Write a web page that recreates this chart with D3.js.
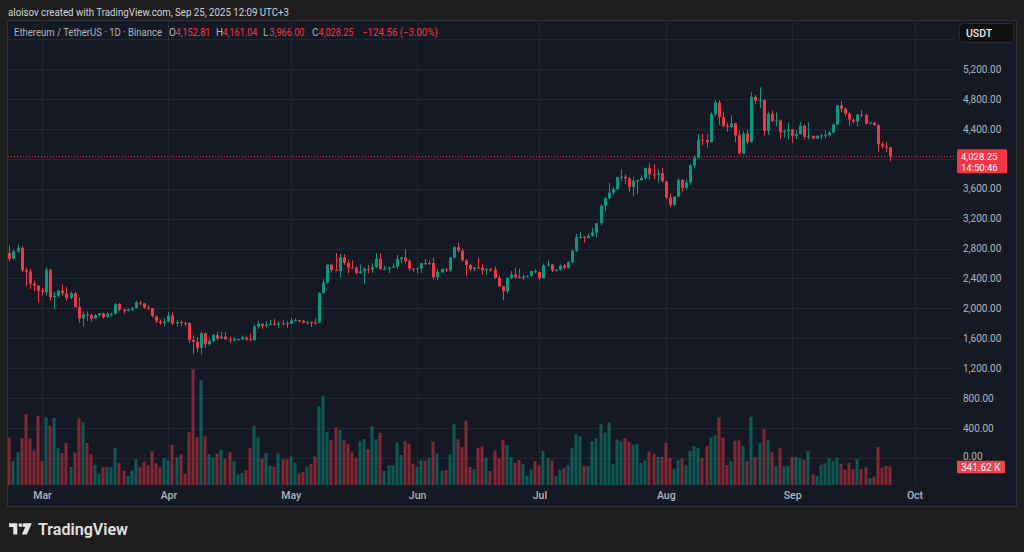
<!DOCTYPE html>
<html><head><meta charset="utf-8">
<script src="https://cdn.jsdelivr.net/npm/d3@7"></script>
<style>html,body{margin:0;padding:0;background:#1e1e1e;overflow:hidden}svg{display:block}</style>
</head><body><svg id="c" width="1024" height="552"></svg>
<script>
// ---- data (ETH/USDT, 1D, Binance), first candle 2025-02-21 ----
const startDate = "2025-02-21";
const opens = [
 2740,2663,2763,2810,2513,2494,2330,2305,
 2237,2218,2518,2150,2170,2240,2200,2140,2203,2020,1865,1920,1910,1863,1911,1935,1886,1926,1932,2058,1982,1965,1983,2004,2080,2068,2012,2002,1897,1827,1805,
 1822,1904,1796,1817,1806,1805,1580,1555,1473,1669,1522,1565,1645,1595,1622,1586,1577,1584,1588,1612,1586,1578,1756,1795,1770,1786,1792,1788,1799,1798,
 1793,1839,1842,1834,1808,1816,1812,1810,2208,2345,2583,2513,2498,2680,2609,2545,2543,2474,2494,2528,2520,2550,2663,2525,2530,2548,2563,2660,2681,2632,2531,
 2528,2535,2604,2593,2606,2418,2486,2523,2510,2680,2816,2772,2642,2580,2526,2547,2545,2510,2524,2519,2408,2294,2228,2408,2451,2418,2417,2423,2436,2500,
 2486,2405,2573,2587,2506,2517,2571,2541,2615,2769,2953,2957,2943,2972,3013,3138,3371,3475,3548,3592,3756,3760,3737,3624,3704,3714,3743,3879,3791,3785,3806,
 3698,3481,3385,3493,3717,3611,3682,3911,4013,4256,4253,4223,4596,4752,4553,4442,4423,4474,4314,4073,4338,4227,4830,4776,4785,4373,4603,4508,4512,4357,4370,
 4391,4306,4330,4442,4295,4307,4273,4306,4312,4316,4350,4460,4714,4667,4604,4523,4500,4591,4586,4468,4483,4450,4195,4165,4152.81
];
const highs = [
 2846,2785,2855,2830,2545,2530,2370,2310,
 2275,2550,2520,2220,2250,2320,2285,2230,2220,2150,1960,1960,1925,1925,1940,1940,1950,1940,2070,2070,1999,2000,2015,2100,2100,2070,2040,2005,1905,1850,1870,
 1955,1950,1845,1840,1820,1815,1640,1620,1690,1670,1600,1660,1690,1690,1690,1620,1615,1597,1640,1620,1660,1785,1830,1800,1830,1850,1860,1825,1840,1830,
 1875,1870,1848,1845,1830,1825,1865,2215,2390,2590,2600,2740,2725,2724,2650,2640,2560,2590,2550,2578,2600,2735,2738,2570,2550,2600,2715,2690,2790,2660,2540,
 2545,2610,2660,2640,2680,2526,2535,2540,2690,2830,2880,2790,2660,2590,2550,2680,2600,2540,2540,2560,2440,2300,2420,2500,2540,2530,2455,2445,2505,2525,
 2490,2600,2640,2590,2525,2585,2590,2630,2785,2998,3025,2968,3000,3080,3140,3390,3480,3680,3615,3760,3860,3790,3759,3760,3720,3780,3880,3940,3930,3860,3880,
 3710,3535,3500,3735,3730,3725,3930,4040,4330,4330,4330,4620,4788,4785,4620,4480,4580,4480,4380,4375,4385,4887,4855,4956,4795,4630,4645,4620,4525,4395,4480,
 4400,4380,4490,4460,4487,4310,4320,4340,4380,4375,4470,4720,4770,4690,4630,4540,4600,4650,4600,4490,4490,4460,4225,4220,4161.04
];
const lows = [
 2625,2655,2740,2485,2300,2258,2230,2076,
 2172,2172,2100,1993,2150,2170,2100,2120,2010,1810,1755,1830,1825,1860,1900,1860,1875,1890,1915,1960,1930,1960,1970,2000,2035,1990,1980,1880,1805,1780,1760,
 1813,1780,1755,1760,1765,1540,1385,1410,1386,1470,1505,1545,1570,1590,1580,1535,1565,1575,1580,1565,1565,1565,1730,1725,1745,1778,1780,1740,1775,1740,
 1790,1828,1810,1800,1785,1750,1780,1805,2195,2330,2480,2500,2410,2580,2465,2540,2451,2460,2330,2470,2480,2540,2510,2510,2470,2540,2525,2600,2600,2500,2490,
 2470,2475,2580,2580,2385,2380,2470,2485,2490,2665,2745,2625,2440,2500,2500,2530,2450,2455,2490,2390,2290,2110,2200,2390,2395,2400,2380,2415,2420,2470,
 2375,2395,2560,2485,2495,2505,2520,2530,2600,2750,2930,2880,2932,2960,2950,3110,3300,3460,3520,3580,3700,3660,3550,3500,3530,3705,3720,3720,3730,3680,3680,
 3460,3355,3370,3485,3560,3590,3650,3870,4000,4180,4150,4210,4570,4450,4420,4360,4415,4220,4060,4060,4190,4210,4730,4680,4310,4320,4490,4440,4260,4285,4260,
 4211,4265,4320,4260,4260,4260,4260,4260,4270,4290,4340,4450,4620,4560,4440,4470,4430,4560,4460,4460,4440,4090,4140,4090,3966
];
const closes = [
 2663,2763,2810,2513,2494,2330,2305,2237,
 2218,2518,2150,2170,2240,2200,2140,2203,2020,1865,1920,1910,1863,1911,1935,1886,1926,1932,2058,1982,1965,1983,2004,2080,2068,2012,2002,1897,1827,1805,1822,
 1904,1796,1817,1806,1805,1580,1555,1473,1669,1522,1565,1645,1595,1622,1586,1577,1584,1588,1612,1586,1578,1756,1795,1770,1786,1792,1788,1799,1798,1793,
 1839,1842,1834,1808,1816,1812,1810,2208,2345,2583,2513,2498,2680,2609,2545,2543,2474,2494,2528,2520,2550,2663,2525,2530,2548,2563,2660,2681,2632,2531,2528,
 2535,2604,2593,2606,2418,2486,2523,2510,2680,2816,2772,2642,2580,2526,2547,2545,2510,2524,2519,2408,2294,2228,2408,2451,2418,2417,2423,2436,2500,2486,
 2405,2573,2587,2506,2517,2571,2541,2615,2769,2953,2957,2943,2972,3013,3138,3371,3475,3548,3592,3756,3760,3737,3624,3704,3714,3743,3879,3791,3785,3806,3698,
 3481,3385,3493,3717,3611,3682,3911,4013,4256,4253,4223,4596,4752,4553,4442,4423,4474,4314,4073,4338,4227,4830,4776,4785,4373,4603,4508,4512,4357,4370,4391,
 4306,4330,4442,4295,4307,4273,4306,4312,4316,4350,4460,4714,4667,4604,4523,4500,4591,4586,4468,4483,4450,4195,4165,4153,4028.25
];
// volume in thousands of ETH
const volumes = [
 871,438,597,859,1297,846,627,1261,
 438,1237,1078,1224,676,585,767,329,590,1219,1146,767,561,371,214,323,329,329,676,402,261,164,269,470,323,420,360,616,396,323,493,
 451,736,506,561,201,963,2114,877,1913,890,566,499,572,639,475,603,438,195,219,274,676,1078,871,475,585,347,334,579,475,470,
 524,407,214,238,334,384,517,1443,1632,963,820,1047,1005,817,749,597,493,798,840,658,1072,835,950,256,360,360,780,548,798,749,389,
 329,457,444,493,798,572,256,274,561,1114,835,694,1175,329,292,676,707,493,256,627,493,822,731,512,402,457,384,164,287,438,
 353,621,493,451,159,280,311,365,676,932,890,347,347,804,846,1114,956,1138,384,835,795,859,786,736,749,402,451,608,572,517,512,
 767,493,298,457,488,360,621,713,676,493,713,871,908,1237,864,365,438,809,817,718,433,1248,506,767,1023,822,597,347,676,342,347,
 506,512,488,462,621,195,170,371,396,493,438,506,389,280,402,292,470,292,323,128,152,694,316,347,341.62
];
const priceGrid = [0,400,800,1200,1600,2000,2400,2800,3200,3600,4000,4400,4800,5200,5600];
const priceLabels = [0,400,800,1200,1600,2000,2400,2800,3200,3600,4400,4800,5200];
const monthTicks = ["2025-03-01","2025-04-01","2025-05-01","2025-06-01","2025-07-01","2025-08-01","2025-09-01","2025-10-01"];
const lastPrice = 4028.25, countdown = "14:50:46", lastVolumeLabel = "341.62 K";
const headerLine = "aloisov created with TradingView.com, Sep 25, 2025 12:09 UTC+3";
const symbolTitle = "Ethereum / TetherUS · 1D · Binance";
const ohlcLegend = [["O","4,152.81"],["H","4,161.04"],["L","3,966.00"],["C","4,028.25"]];
const changeText = "−124.56 (−3.00%)";

// ---- drawing ----
const UP = "#089981", DOWN = "#f23645";
const FONT = "Roboto, 'Noto Sans', 'DejaVu Sans', sans-serif";
const svg = d3.select("#c");
const plot = {x0: 8, x1: 955, y0: 21, y1: 487};

svg.append("rect").attr("width",1024).attr("height",552).attr("fill","#1e1e1e");
svg.append("rect").attr("x",7.5).attr("y",20.5).attr("width",1009).attr("height",486)
   .attr("fill","#151924").attr("stroke","#2c2f36");

const day0 = new Date(startDate + "T00:00:00Z");
const dates = opens.map((_, i) => d3.utcDay.offset(day0, i));
const x = d3.scaleUtc().domain([new Date("2025-03-01T00:00:00Z"), new Date("2025-10-01T00:00:00Z")]).range([42, 914.5]);
const y = d3.scaleLinear().domain([0, 5200]).range([458, 69]);
const yv = d3.scaleLinear().domain([0, 2200]).range([485, 485 - 2200/18.27]);

// grid
const grid = svg.append("g");
grid.selectAll("line.h").data(priceGrid).join("line")
  .attr("x1", plot.x0).attr("x2", plot.x1)
  .attr("y1", d => Math.round(y(d)) + 0.5).attr("y2", d => Math.round(y(d)) + 0.5)
  .attr("stroke", "#232732").attr("stroke-width", 1);
grid.selectAll("line.v").data(monthTicks).join("line")
  .attr("x1", d => Math.round(x(new Date(d + "T00:00:00Z"))) + 0.5)
  .attr("x2", d => Math.round(x(new Date(d + "T00:00:00Z"))) + 0.5)
  .attr("y1", plot.y0).attr("y2", plot.y1)
  .attr("stroke", "#232732").attr("stroke-width", 1);

svg.append("clipPath").attr("id","clip").append("rect")
  .attr("x", plot.x0).attr("y", plot.y0).attr("width", plot.x1 - plot.x0).attr("height", plot.y1 - plot.y0);
const g = svg.append("g").attr("clip-path","url(#clip)");

const idx = d3.range(opens.length);
const col = i => closes[i] >= opens[i] ? UP : DOWN;
const cx = i => Math.round(x(dates[i]));

// volume
g.append("g").selectAll("rect").data(idx).join("rect")
  .attr("x", i => cx(i) - 1.5).attr("width", 3)
  .attr("y", i => yv(volumes[i])).attr("height", i => yv(0) - yv(volumes[i]))
  .attr("fill", col).attr("fill-opacity", 0.5);

// last price line
g.append("line").attr("x1", plot.x0).attr("x2", plot.x1)
  .attr("y1", y(lastPrice)).attr("y2", y(lastPrice))
  .attr("stroke", DOWN).attr("stroke-width", 1).attr("stroke-dasharray", "1,2");

// candles
const cg = g.append("g");
cg.selectAll("line").data(idx).join("line")
  .attr("x1", i => cx(i) + 0.5).attr("x2", i => cx(i) + 0.5)
  .attr("y1", i => y(highs[i])).attr("y2", i => y(lows[i]))
  .attr("stroke", col).attr("stroke-width", 1);
cg.selectAll("rect").data(idx).join("rect")
  .attr("x", i => cx(i) - 1).attr("width", 3)
  .attr("y", i => y(Math.max(opens[i], closes[i])))
  .attr("height", i => Math.max(1, Math.abs(y(opens[i]) - y(closes[i]))))
  .attr("fill", col);

// price axis
const pa = svg.append("g").attr("transform", "translate(960,0)")
  .call(d3.axisRight(y).tickValues(priceLabels).tickSize(0).tickPadding(3).tickFormat(d3.format(",.2f")));
pa.select(".domain").remove();
pa.selectAll("text").attr("fill","#b2b5be").attr("font-size","10px").attr("font-family",FONT);
pa.selectAll(".tick").filter(d => d === 0).select("text").attr("dy","0.1em");

// time axis
const ta = svg.append("g").attr("transform", "translate(0,487)")
  .call(d3.axisBottom(x).tickValues(monthTicks.map(d => new Date(d + "T00:00:00Z"))).tickSize(0).tickPadding(5).tickFormat(d3.utcFormat("%b")));
ta.select(".domain").remove();
ta.selectAll("text").attr("fill","#b2b5be").attr("font-size","10.5px").attr("font-family",FONT).attr("font-weight",500);

// USDT button
svg.append("rect").attr("x",959.5).attr("y",23.5).attr("width",54).attr("height",19).attr("rx",3.5)
  .attr("fill","#0f0f0f").attr("stroke","#2a2a2a");
svg.append("text").attr("x",966).attr("y",37).text("USDT")
  .attr("fill","#e8e8e8").attr("font-size","10.5px").attr("font-family",FONT).attr("font-weight",500);

// last price tag
const py = y(lastPrice);
svg.append("rect").attr("x",957).attr("y",py - 7.5).attr("width",50).attr("height",24).attr("rx",1.5).attr("fill",DOWN);
svg.append("text").attr("x",961).attr("y",py + 3.2).text(d3.format(",.2f")(lastPrice))
  .attr("fill","#fff").attr("font-size","9.5px").attr("font-family",FONT);
svg.append("text").attr("x",961).attr("y",py + 14.3).text(countdown)
  .attr("fill","#fff").attr("font-size","9.5px").attr("font-family",FONT);

// last volume tag
const vy = yv(volumes[volumes.length - 1]);
svg.append("rect").attr("x",957).attr("y",vy - 5.5).attr("width",48).attr("height",12.5).attr("rx",1).attr("fill","#e8454f");
svg.append("text").attr("x",961).attr("y",vy + 4.3).text(lastVolumeLabel)
  .attr("fill","#fff").attr("font-size","10px").attr("font-family",FONT);

// header
svg.append("text").attr("x",8).attr("y",16).text(headerLine)
  .attr("fill","#d1d4dc").attr("font-size","10.5px").attr("font-family",FONT)
  .attr("textLength",281).attr("lengthAdjust","spacingAndGlyphs");
const hdr = svg.append("g").attr("font-family",FONT).attr("font-size","10px");
hdr.append("text").attr("x",14).attr("y",36).text(symbolTitle).attr("fill","#b2b5be")
  .attr("textLength",148).attr("lengthAdjust","spacingAndGlyphs");
const lx = [169, 216, 263, 312];
ohlcLegend.forEach((d, k) => {
  hdr.append("text").attr("x", lx[k]).attr("y", 36).text(d[0]).attr("fill","#b2b5be");
  hdr.append("text").attr("x", lx[k] + 6.5).attr("y", 36).text(d[1]).attr("fill", DOWN)
    .attr("textLength", 35).attr("lengthAdjust","spacingAndGlyphs");
});
hdr.append("text").attr("x",362).attr("y",36).text(changeText).attr("fill",DOWN)
  .attr("textLength",76).attr("lengthAdjust","spacingAndGlyphs");

// footer logo
const logo = svg.append("g").attr("fill","#e3e3e3");
logo.append("path").attr("d","M9 523.3H17.3V534.5H13.3V527H9Z");
logo.append("circle").attr("cx",20.4).attr("cy",525.1).attr("r",1.9);
logo.append("path").attr("d","M22.8 523.3H31.8L26.9 534.5H21.8L25.3 527H22.8Z");
svg.append("text").attr("x",38).attr("y",535).text("TradingView")
  .attr("fill","#e3e3e3").attr("font-size","16px").attr("font-weight",600).attr("font-family",FONT)
  .attr("textLength",90).attr("lengthAdjust","spacingAndGlyphs");
</script></body></html>
